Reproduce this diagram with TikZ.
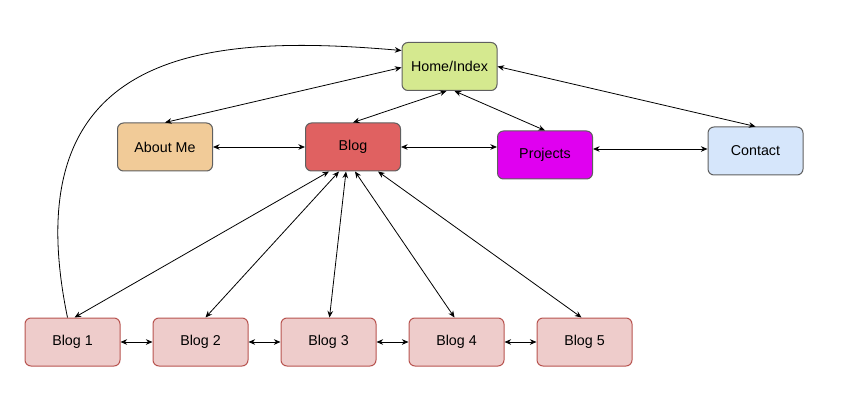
\documentclass[tikz,border=0pt]{standalone}
\usepackage{fontspec}
\setmainfont{Liberation Sans}
\usetikzlibrary{arrows.meta,calc}
\definecolor{homefill}{HTML}{D5E98F}
\definecolor{aboutfill}{HTML}{F1CB98}
\definecolor{blogfill}{HTML}{E06161}
\definecolor{projfill}{HTML}{E000F0}
\definecolor{contactfill}{HTML}{D6E6FB}
\definecolor{subfill}{HTML}{EECCCB}
\definecolor{substroke}{HTML}{B85450}
\definecolor{darkstroke}{HTML}{5F5F5F}
\tikzset{
  box/.style={draw=darkstroke, line width=0.75pt, rounded corners=4.5pt,
    minimum width=71.25pt, minimum height=36pt, inner sep=0pt,
    font=\fontsize{10.7pt}{12pt}\selectfont},
  subbox/.style={box, draw=substroke, fill=subfill},
  link/.style={line width=0.6pt, black,
    {Stealth[length=5pt,width=4.2pt]}-{Stealth[length=5pt,width=4.2pt]}},
  onelink/.style={line width=0.6pt, black, -{Stealth[length=5pt,width=4.2pt]}}
}
\begin{document}
\begin{tikzpicture}[x=0.75pt,y=-0.75pt]
\useasboundingbox (0,0) rectangle (848,420);
\node[box, fill=homefill] (home) at (449.5,66.5) {Home/Index};
\node[box, fill=aboutfill] (about) at (165,147) {About Me};
\node[box, fill=blogfill] (blog) at (353,147) {Blog};
\node[box, fill=projfill] (proj) at (545,155) {Projects};
\node[box, fill=contactfill] (contact) at (755.5,151) {Contact};
\node[subbox] (b1) at (72.5,342) {Blog 1};
\node[subbox] (b2) at (200.5,342) {Blog 2};
\node[subbox] (b3) at (328.5,342) {Blog 3};
\node[subbox] (b4) at (456.5,342) {Blog 4};
\node[subbox] (b5) at (584.5,342) {Blog 5};

\draw[onelink] ($(b1.north)+(-5,0)$) .. controls (10,40) and (220,35) .. ($(home.west)+(0,-16)$);
\draw[link] (about.north) -- ($(home.west)+(0,1)$);
\draw[link] (blog.north) -- ($(home.south)+(-3,0)$);
\draw[link] ($(home.south)+(5,0)$) -- (proj.north);
\draw[link] (home.east) -- (contact.north);
\draw[link] (about.east) -- (blog.west);
\draw[link] (blog.east) -- ($(proj.west)+(0,-8)$);
\draw[link] ($(proj.east)+(0,-6)$) -- ($(contact.west)+(0,-2)$);
\draw[link] ($(blog.south)+(-24,0)$) -- ($(b1.north)+(2,0)$);
\draw[link] ($(blog.south)+(-14,0)$) -- ($(b2.north)+(5,0)$);
\draw[link] ($(blog.south)+(-7,0)$) -- ($(b3.north)+(1,0)$);
\draw[link] ($(blog.south)+(2,0)$) -- ($(b4.north)+(-2,0)$);
\draw[link] ($(blog.south)+(25,0)$) -- ($(b5.north)+(-3,0)$);
\draw[link] (b1.east) -- (b2.west);
\draw[link] (b2.east) -- (b3.west);
\draw[link] (b3.east) -- (b4.west);
\draw[link] (b4.east) -- (b5.west);
\end{tikzpicture}
\end{document}
